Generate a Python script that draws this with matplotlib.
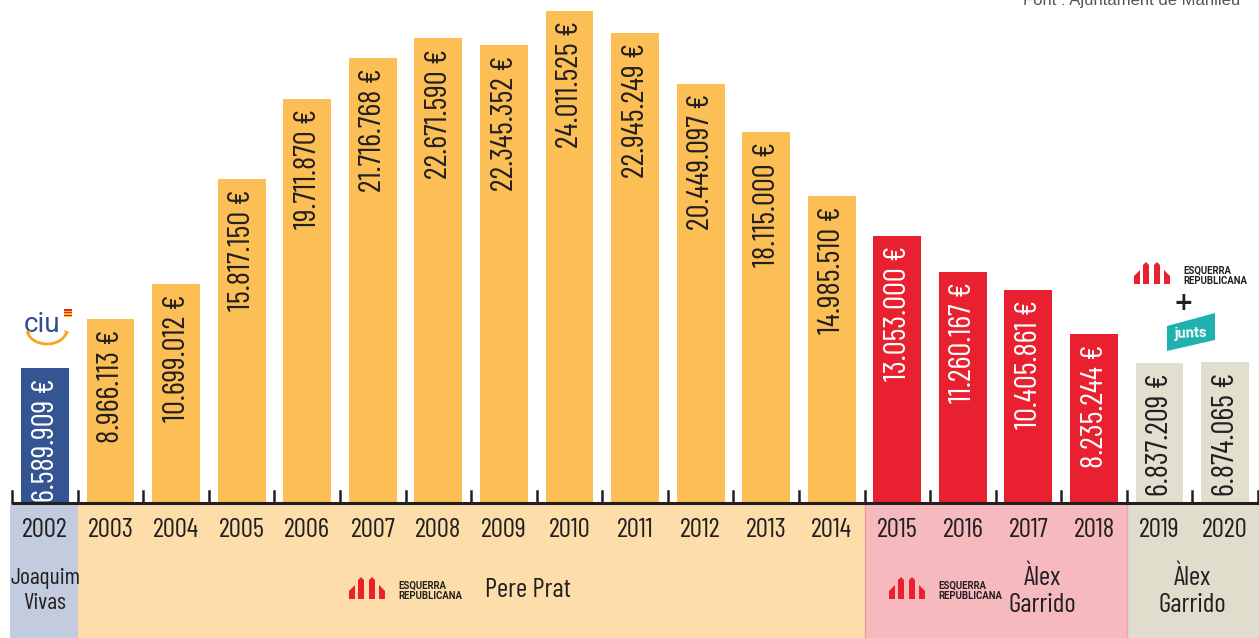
import matplotlib
matplotlib.use("Agg")
import matplotlib.pyplot as plt
from matplotlib.patches import Polygon, Rectangle, Arc
from matplotlib import font_manager

years = ["2002", "2003", "2004", "2005", "2006", "2007", "2008", "2009", "2010", "2011",
         "2012", "2013", "2014", "2015", "2016", "2017", "2018", "2019", "2020"]
values = [6589909, 8966113, 10699012, 15817150, 19711870, 21716768, 22671590, 22345352,
          24011525, 22945249, 20449097, 18115000, 14985510, 13053000, 11260167, 10405861,
          8235244, 6837209, 6874065]
groups = ["ciu"] + ["pp"] * 12 + ["erc"] * 4 + ["junts"] * 2
mayors = ["Joaquim\nVivas", "Pere Prat", "Àlex\nGarrido", "Àlex\nGarrido"]
source_text = "Font : Ajuntament de Manlleu"

bar_col = {"ciu": "#345592", "pp": "#fbbf55", "erc": "#e8202f", "junts": "#e2dfcf"}
txt_col = {"ciu": "white", "pp": "#231f20", "erc": "white", "junts": "#231f20"}
band_col = {"ciu": "#c3cbdf", "pp": "#fddeaa", "erc": "#f6b9be", "junts": "#e0ddcc"}

avail = {f.name for f in font_manager.fontManager.ttflist}
def pick(names):
    for n in names:
        if n in avail:
            return n
    return "DejaVu Sans"
narrow = pick(["Barlow Condensed", "Roboto Condensed", "Archivo Narrow"])
FN = [narrow, "DejaVu Sans"]
BOLD = [pick(["Roboto", "Lato", "DejaVu Sans"]), "DejaVu Sans"]
WT = "normal"

W, H = 1259, 638
fig = plt.figure(figsize=(W / 100, H / 100), dpi=100)
ax = fig.add_axes([0, 0, 1, 1])
sp = 65.56
ppm = 20.49  # px per million
x0 = -45 / sp
x1 = (W - 45) / sp
ylo = -135 / ppm
yhi = 503 / ppm
ax.set_xlim(x0, x1)
ax.set_ylim(ylo, yhi)
ax.axis("off")

def P(px, py):
    """pixel (from top-left) -> data coords"""
    return ((px - 45) / sp, (503 - py) / ppm)

# bottom bands
bands = [("ciu", -0.535, 0.5), ("pp", 0.5, 12.5), ("erc", 12.5, 16.5), ("junts", 16.5, x1 + 1)]
band_top = -0.12
for g, a, b in bands:
    ax.add_patch(Rectangle((a, ylo - 1), b - a, band_top - ylo + 1, color=band_col[g], lw=0, zorder=1))
ax.plot([12.5, 12.5], [ylo, band_top], color="#e99aa0", lw=1, zorder=1.5)
ax.plot([16.5, 16.5], [ylo, band_top], color="#e8a9ad", lw=1, zorder=1.5)

vals_m = [v / 1e6 for v in values]
xs = list(range(len(years)))
ax.bar(xs, vals_m, width=0.73, color=[bar_col[g] for g in groups], zorder=2)

def fmt(v):
    return f"{v:,}".replace(",", ".") + " €"

for x, v, g in zip(xs, vals_m, groups):
    ax.text(x + 0.01, v - 0.5, fmt(values[x]), rotation=90, ha="center", va="top",
            fontsize=22.5, color=txt_col[g], family=FN, fontweight=WT, zorder=3)

# baseline and ticks
ax.plot([-0.5, x1 + 1], [0, 0], color="#231f20", lw=2.2, zorder=4, solid_capstyle="butt")
for b in range(len(years) + 1):
    xb = b - 0.5
    ax.plot([xb, xb], [0, 0.6], color="#231f20", lw=1.8, zorder=4)

# year labels
for x, y in zip(xs, years):
    ax.text(x, P(0, 530)[1], y, ha="center", va="center", fontsize=19.5, color="#231f20",
            family=FN, fontweight=WT, zorder=5)

# mayor names
ax.text(0, P(0, 591)[1], mayors[0], ha="center", va="center", fontsize=17, color="#231f20",
        family=FN, fontweight=WT, linespacing=1.2, zorder=5)
ax.text(P(528, 0)[0], P(0, 590)[1], mayors[1], ha="center", va="center", fontsize=19.5,
        color="#231f20", family=FN, fontweight=WT, zorder=5)
ax.text(P(1042, 0)[0], P(0, 591)[1], mayors[2], ha="center", va="center", fontsize=19.5,
        color="#231f20", family=FN, fontweight=WT, linespacing=1.15, zorder=5)
ax.text(P(1192, 0)[0], P(0, 591)[1], mayors[3], ha="center", va="center", fontsize=19.5,
        color="#231f20", family=FN, fontweight=WT, linespacing=1.15, zorder=5)

# ERC logo helper
def erc_logo(px, py, s=1.0):
    red = "#e8202f"
    shapes = [
        [(0, 22), (0, 14), (6, 8), (6, 22)],
        [(9, 22), (9, 3), (12, 0), (15, 3), (15, 22)],
        [(20, 22), (20, 3), (23, 0), (26, 3), (26, 22)],
        [(30, 22), (30, 8), (36, 14), (36, 22)],
    ]
    for sh in shapes:
        pts = [P(px + a * s, py + b * s) for a, b in sh]
        ax.add_patch(Polygon(pts, closed=True, color=red, lw=0, zorder=6))
    tx, ty = P(px + 49 * s, py + 14 * s)
    ax.text(tx, ty, "ESQUERRA\nREPUBLICANA", ha="left", va="center", fontsize=6.9 * s,
            fontweight="bold", color="#231f20", family=BOLD, linespacing=1.0, zorder=6)

erc_logo(349, 577)
erc_logo(889, 577)
erc_logo(1134, 262)

# plus sign and junts
ax.text(*P(1183, 303), "+", ha="center", va="center", fontsize=17, fontweight="bold",
        color="#231f20", family="DejaVu Sans", zorder=6)
jp = [P(1167, 326), P(1215, 313), P(1215, 340), P(1167, 351)]
ax.add_patch(Polygon(jp, closed=True, color="#1fb1ae", lw=0, zorder=6))
ax.text(*P(1191, 333), "junts", ha="center", va="center", fontsize=10.5, fontweight="bold",
        color="white", family=BOLD, rotation=2, zorder=7)

# CiU logo
ax.text(*P(42, 324), "ciu", ha="center", va="center", fontsize=20, color="#2d4f95",
        family=BOLD, zorder=6)
cx, cy = P(47, 329)
ax.add_patch(Arc((cx, cy), 40 / sp, 30 / ppm, theta1=200, theta2=340, color="#f5a623", lw=2, zorder=6))
ax.add_patch(Polygon([P(26, 332), P(31, 330), P(29, 336)], color="#f5a623", lw=0, zorder=6))
ax.add_patch(Polygon([P(69, 332), P(64, 330), P(66, 336)], color="#f5a623", lw=0, zorder=6))
ccx, ccy = P(68, 313)
ax.add_patch(Rectangle((ccx - 4 / sp, ccy - 4 / ppm), 8 / sp, 8 / ppm, color="#f7c117", lw=0, zorder=6))
for dy in (-2.5, 0.5, 3):
    ax.add_patch(Rectangle((ccx - 4 / sp, ccy + (dy - 0.8) / ppm), 8 / sp, 1.4 / ppm,
                           color="#e8202f", lw=0, zorder=7))

# source
ax.text(*P(1240, 1), source_text, ha="right", va="center", fontsize=12, color="#555555",
        family=["Liberation Sans", "DejaVu Sans"], zorder=6)

fig.savefig("out.png", dpi=100)
